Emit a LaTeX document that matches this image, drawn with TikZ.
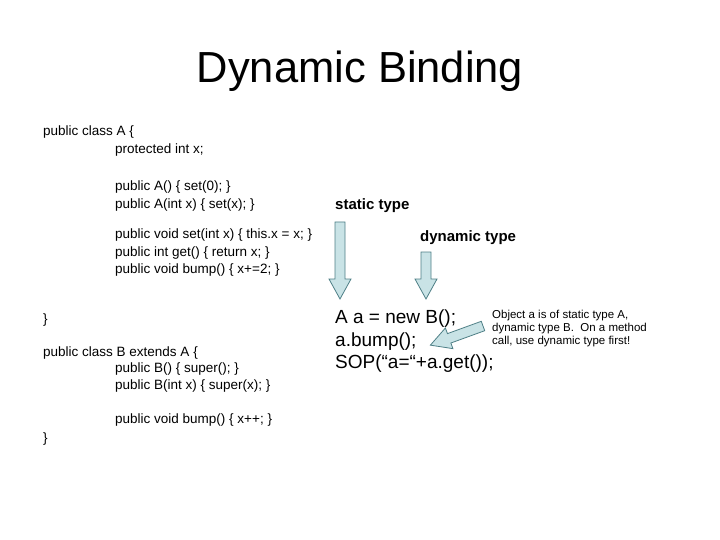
\documentclass[tikz,border=0pt]{standalone}
\usepackage{fontspec}
\setmainfont{Liberation Sans}
\definecolor{arrowfill}{HTML}{C9E3E6}
\definecolor{arrowline}{HTML}{4E7F86}
\tikzset{
	code/.style={anchor=base west, inner sep=0pt, font=\fontsize{13.5}{16}\selectfont},
	bigcode/.style={anchor=base west, inner sep=0pt, font=\fontsize{19}{22}\selectfont},
	label/.style={anchor=base west, inner sep=0pt, font=\bfseries\fontsize{15}{18}\selectfont},
	note/.style={anchor=base west, inner sep=0pt, font=\fontsize{11.5}{13}\selectfont},
	blockarrow/.style={draw=arrowline, fill=arrowfill, line width=0.8pt, line join=miter}
}
% tail at (0,0), pointing along +x; #1 = length
\newcommand{\blockarr}[1]{(0,-5) -- ({#1-20},-5) -- ({#1-20},-11) -- (#1,0) -- ({#1-20},11) -- ({#1-20},5) -- (0,5) -- cycle}
\begin{document}
\begin{tikzpicture}[x=1pt,y=-1pt]
		\useasboundingbox (0,0) rectangle (720,540);
		\node[anchor=base, font=\fontsize{43.5}{48}\selectfont] (title) at (360,83) {Dynamic Binding};
		% class A
		\node[code] (a0) at (43,136) {public class A \{};
		\node[code] (a1) at (115,154) {protected int x;};
		\node[code] (a2) at (115,191) {public A() \{ set(0); \}};
		\node[code] (a3) at (115,208) {public A(int x) \{ set(x); \}};
		\node[code] (a4) at (115,238) {public void set(int x) \{ this.x = x; \}};
		\node[code] (a5) at (115,256) {public int get() \{ return x; \}};
		\node[code] (a6) at (115,273) {public void bump() \{ x+=2; \}};
		\node[code] (a7) at (43,323) {\}};
		% class B
		\node[code] (b0) at (43,356) {public class B extends A \{};
		\node[code] (b1) at (115,372) {public B() \{ super(); \}};
		\node[code] (b2) at (115,389) {public B(int x) \{ super(x); \}};
		\node[code] (b3) at (115,423) {public void bump() \{ x++; \}};
		\node[code] (b4) at (43,442) {\}};
		% labels
		\node[label] (stype) at (335,210) {static type};
		\node[label] (dtype) at (420,241) {dynamic type};
		\node[bigcode] (m1) at (335,323) {A a = new B();};
		\node[bigcode] (m2) at (335,346) {a.bump();};
		\node[bigcode] (m3) at (335,368) {SOP(“a=“+a.get());};
		\node[note] (n1) at (492,318) {Object a is of static type A,};
		\node[note] (n2) at (492,331) {dynamic type B.\ \ On a method};
		\node[note] (n3) at (492,344) {call, use dynamic type first!};
		% arrows
		\draw[blockarrow, shift={(340,222)}, rotate=-90] \blockarr{77};
		\draw[blockarrow, shift={(426,252)}, rotate=-90] \blockarr{47};
		\draw[blockarrow, shift={(483,326)}, rotate=200] \blockarr{56};
	\end{tikzpicture}
\end{document}
